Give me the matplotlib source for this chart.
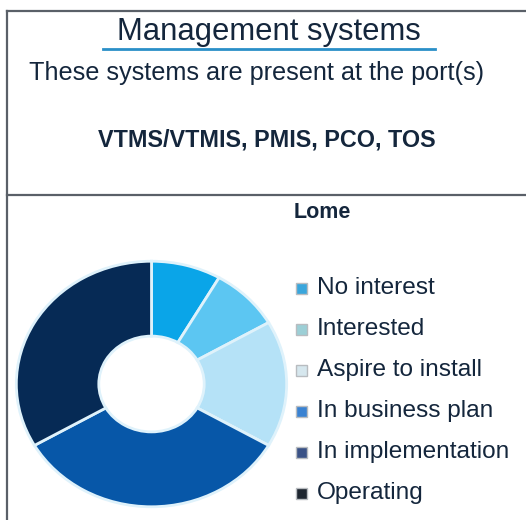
import matplotlib
matplotlib.use("Agg")
import matplotlib.pyplot as plt
from matplotlib.lines import Line2D
from matplotlib.patches import Rectangle

plt.rcParams['font.family'] = ['Liberation Sans', 'DejaVu Sans']

# data
port = "Lome"
systems = "VTMS/VTMIS, PMIS, PCO, TOS"
categories = ["No interest", "Interested", "Aspire to install",
              "In business plan", "In implementation", "Operating"]
counts = [1, 1, 2, 0, 4, 4]
colors = ["#0aa5e8", "#5cc6f2", "#b5e2f7", "#2a7fd0", "#0757a8", "#062a55"]
legend_colors = ["#3aa6dc", "#9ccfd6", "#d6e7ee", "#3a82d2", "#3a5286", "#1e2630"]

W, H = 526, 520
fig = plt.figure(figsize=(W / 100, H / 100), dpi=100)
txt = "#14263c"

# frame lines
line_col = "#5a6068"
fig.add_artist(Line2D([7 / W, 7 / W], [0, 1 - 11 / H], color=line_col, lw=1.6))
fig.add_artist(Line2D([7 / W, 1], [1 - 11 / H, 1 - 11 / H], color=line_col, lw=1.6))
fig.add_artist(Line2D([7 / W, 1], [1 - 195 / H, 1 - 195 / H], color=line_col, lw=1.6))

# header
fig.text(269 / W, 1 - 40 / H, "Management systems", ha='center', va='baseline',
         fontsize=22.3, color=txt)
fig.add_artist(Line2D([103 / W, 435 / W], [1 - 48.5 / H, 1 - 48.5 / H], color="#2a8fc8", lw=2))
fig.text(257 / W, 1 - 73 / H, "These systems are present at the port(s)", ha='center',
         va='center', fontsize=18.2, color=txt)
fig.text(267 / W, 1 - 140 / H, systems, ha='center', va='center',
         fontsize=16.8, fontweight='bold', color=txt)
fig.text(322 / W, 1 - 212 / H, port, ha='center', va='center',
         fontsize=15.5, fontweight='bold', color=txt)

# donut (slightly stretched horizontally as in the original)
ax = fig.add_axes([15 / W, 12 / H, 273 / W, 248 / H])
ax.pie(counts, colors=colors, startangle=90, counterclock=False,
       wedgeprops=dict(width=0.61, edgecolor="#dff2fb", linewidth=2))
ax.set_aspect('auto')
ax.set_xlim(-1.01, 1.01)
ax.set_ylim(-1.01, 1.01)

# legend
for i, (lab, col) in enumerate(zip(categories, legend_colors)):
    y = 1 - (288 + 41 * i) / H
    fig.add_artist(Rectangle((296 / W, y - 5.5 / H), 11 / W, 11 / H, facecolor=col,
                             edgecolor="#b8bcc0", lw=1, transform=fig.transFigure))
    fig.text(317 / W, y, lab, ha='left', va='center', fontsize=17.6, color=txt)

fig.savefig("out.png", dpi=100)
